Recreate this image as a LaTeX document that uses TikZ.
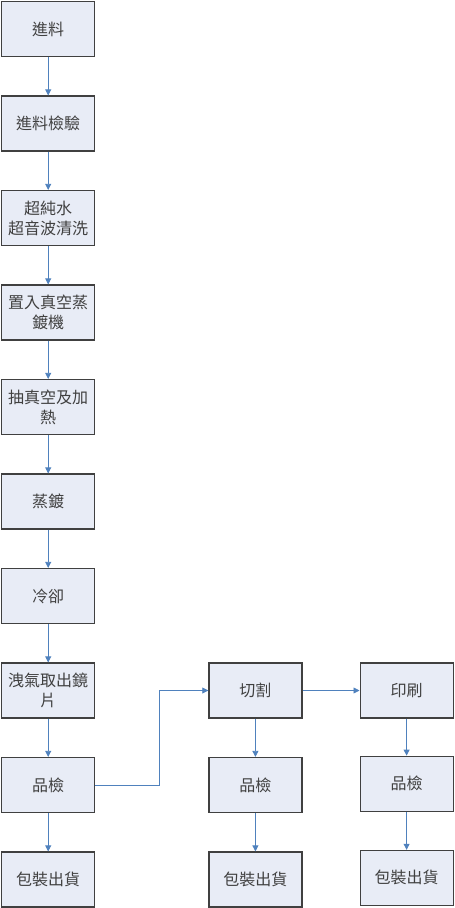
\documentclass[tikz,border=0pt]{standalone}
\usepackage{fontspec}
\newfontfamily\cjk{Noto Sans CJK TC}
\usepackage{xcolor}
\usepackage{tikz}
\usetikzlibrary{arrows.meta,positioning}

\definecolor{boxfill}{RGB}{232,236,246}
\definecolor{boxline}{RGB}{64,64,64}
\definecolor{flowblue}{RGB}{79,129,189}

\begin{document}
\begin{tikzpicture}[
  x=1pt,y=1pt,
  font=\cjk\fontsize{16}{20}\selectfont,
  node distance=38.3pt,
  stage/.style={draw=boxline,line width=1.2pt,fill=boxfill,text=black!75,minimum width=93pt,minimum height=55pt,inner sep=2pt,align=center},
  flow/.style={draw=flowblue,line width=0.8pt,-{Triangle[length=6pt,width=6pt]}}
]
\useasboundingbox (0,0) rectangle (455,-908);
% main line
\node[stage] (feed) at (48.2,-29) {進料};
\node[stage,below=of feed] (feedchk) {進料檢驗};
\node[stage,below=of feedchk] (wash) {超純水\\超音波清洗};
\node[stage,below=of wash] (load) {置入真空蒸\\鍍機};
\node[stage,below=of load] (vac) {抽真空及加\\熱};
\node[stage,below=of vac] (coat) {蒸鍍};
\node[stage,below=of coat] (cool) {冷卻};
\node[stage,below=of cool] (unload) {洩氣取出鏡\\片};
\node[stage,below=of unload] (qcA) {品檢};
\node[stage,below=of qcA] (shipA) {包裝出貨};
% cutting branch
\node[stage,right=113pt of unload] (cut) {切割};
\node[stage,below=of cut] (qcB) {品檢};
\node[stage,below=of qcB] (shipB) {包裝出貨};
% printing branch
\node[stage,right=57pt of cut] (print) {印刷};
\node[stage,below=37pt of print] (qcC) {品檢};
\node[stage,below=38pt of qcC] (shipC) {包裝出貨};

\foreach \a/\b in {feed/feedchk,feedchk/wash,wash/load,load/vac,vac/coat,coat/cool,cool/unload,unload/qcA,qcA/shipA,cut/qcB,qcB/shipB,print/qcC,qcC/shipC}
  \draw[flow] (\a) -- (\b);
\draw[flow] (qcA.east) -- ++(64.5,0) |- (cut.west);
\draw[flow] (cut) -- (print);
\end{tikzpicture}
\end{document}
